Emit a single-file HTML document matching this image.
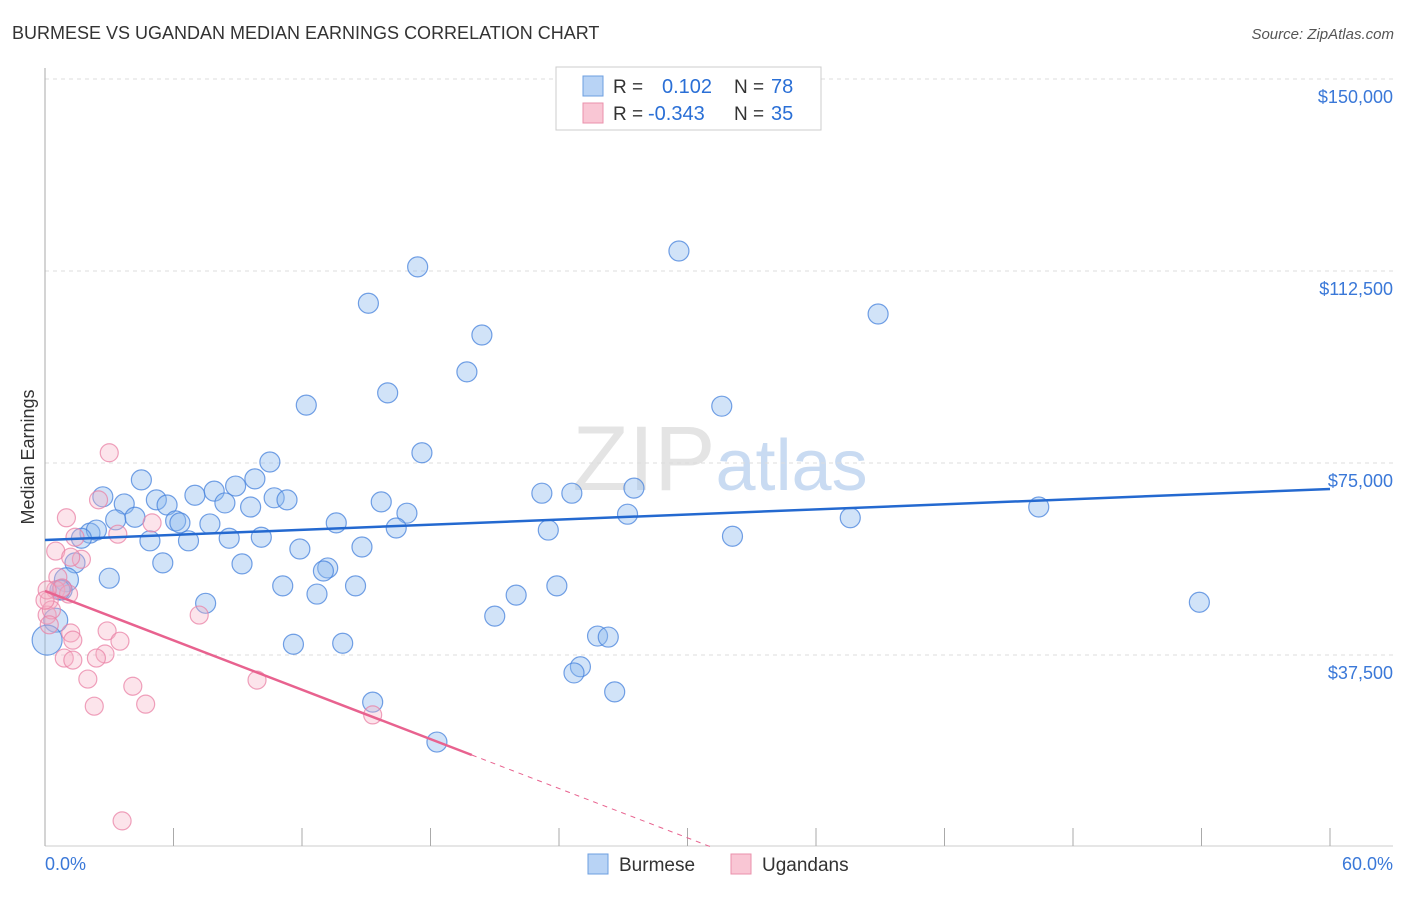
<!DOCTYPE html>
<html><head><meta charset="utf-8"><style>
body{margin:0;background:#fff;font-family:"Liberation Sans",sans-serif;}
svg text{font-family:"Liberation Sans",sans-serif;}
</style></head><body>
<svg id="chart" width="1406" height="892" xmlns="http://www.w3.org/2000/svg">
<text x="12" y="39" font-size="18" fill="#333">BURMESE VS UGANDAN MEDIAN EARNINGS CORRELATION CHART</text>
<text x="1394" y="39" font-size="15" fill="#555" text-anchor="end" font-style="italic">Source: ZipAtlas.com</text>
<text x="720" y="490" font-size="92" text-anchor="middle" fill="#e4e4e4" font-family="Liberation Serif"><tspan>ZIP</tspan><tspan fill="#c9dbf2" font-family="Liberation Sans" font-size="72">atlas</tspan></text>
<text transform="translate(34,457) rotate(-90)" font-size="18" fill="#333" text-anchor="middle">Median Earnings</text>
<g id="grid"></g><g id="axes"></g><g id="pts"></g><g id="lines"></g>
<g>
<rect x="556" y="67" width="265" height="63" fill="#fff" stroke="#ccc"/>
<rect x="583" y="76" width="20" height="20" fill="#b8d3f5" stroke="#6d9fe0"/>
<rect x="583" y="103" width="20" height="20" fill="#f9c6d4" stroke="#ea90ab"/>
<text x="613" y="93" font-size="19" fill="#333">R = </text><text x="662" y="93" font-size="20" fill="#2a6fd6">0.102</text>
<text x="734" y="93" font-size="19" fill="#333">N = </text><text x="771" y="93" font-size="20" fill="#2a6fd6">78</text>
<text x="613" y="120" font-size="19" fill="#333">R = </text><text x="648" y="120" font-size="20" fill="#2a6fd6">-0.343</text>
<text x="734" y="120" font-size="19" fill="#333">N = </text><text x="771" y="120" font-size="20" fill="#2a6fd6">35</text>
</g>
<g>
<rect x="588" y="854" width="20" height="20" fill="#b8d3f5" stroke="#6d9fe0"/>
<text x="619" y="871" font-size="19" fill="#333">Burmese</text>
<rect x="731" y="854" width="20" height="20" fill="#f9c6d4" stroke="#ea90ab"/>
<text x="762" y="871" font-size="19" fill="#333">Ugandans</text>
</g>
<text x="45" y="870" font-size="18" fill="#3a78d8">0.0%</text>
<text x="1393" y="870" font-size="18" fill="#3a78d8" text-anchor="end">60.0%</text>
</svg>
<script>
const yTicks=[37500,75000,112500,150000];
const yTickLabels=["$37,500","$75,000","$112,500","$150,000"];
const blueX=[29.6,17.4,15.1,38.9,20.4,19.7,16.0,12.2,31.6,17.6,10.5,4.5,9.8,8.9,27.5,7.0,7.9,23.2,24.6,2.7,5.2,10.7,11.3,5.7,15.7,3.7,9.6,8.4,46.4,16.9,27.2,4.2,3.3,6.1,6.3,37.6,13.6,7.7,16.4,23.5,2.1,2.4,1.7,4.9,6.7,8.6,10.1,32.1,14.8,11.9,5.5,9.2,1.4,13.2,13.0,3.0,1.0,11.1,14.5,23.9,0.8,12.7,22.0,7.5,53.9,21.0,0.5,11.6,13.9,25.8,26.3,0.1,25.0,24.7,26.6,15.3,18.3,0.7];
const blueY=[116.4,113.3,106.2,104.1,100.0,92.8,88.7,86.3,86.1,77.0,75.2,71.7,71.9,70.5,70.1,68.7,69.5,69.1,69.1,68.4,67.8,68.2,67.8,66.8,67.4,67.0,66.4,67.2,66.4,65.2,65.0,64.4,63.9,63.7,63.3,64.3,63.3,63.1,62.3,61.9,61.3,61.9,60.3,59.8,59.8,60.3,60.5,60.7,58.6,58.2,55.5,55.3,55.5,54.5,53.9,52.5,52.2,51.0,51.0,51.0,50.2,49.4,49.2,47.6,47.8,45.1,44.3,39.6,39.8,41.2,41.0,40.4,35.2,34.0,30.3,28.3,20.5,50.2];
const pinkX=[3.0,1.0,2.5,5.0,3.4,1.4,0.5,1.7,1.2,0.6,0.5,1.1,0.8,0.2,0.1,7.2,0.3,2.9,1.2,1.3,3.5,2.8,2.4,0.9,1.3,2.0,4.1,9.9,4.7,2.3,15.3,3.6,0.2,0.1,0.0];
const pinkY=[77.0,64.3,67.8,63.3,61.1,60.5,57.8,56.2,56.6,52.7,50.2,49.4,50.6,48.2,45.3,45.3,46.3,42.2,41.8,40.4,40.2,37.7,36.9,36.9,36.5,32.8,31.4,32.6,27.9,27.5,25.8,5.1,43.4,50.2,48.2];
const blueTrend=[59.96,69.92];
const pinkTrend=[50.0,17.97,19.93];
const NS='http://www.w3.org/2000/svg';
const X0=45,X1=1330,XMAX=60,YB=847,PPK=5.12;
function sx(v){return X0+(v/XMAX)*(X1-X0);}
function sy(k){return YB-k*PPK;}
function mk(t,a,p){const e=document.createElementNS(NS,t);for(const k in a)e.setAttribute(k,a[k]);p.appendChild(e);return e;}
const grid=document.getElementById('grid');
yTicks.forEach((t,i)=>{const y=sy(t/1000);
const l=mk('line',{x1:45,x2:1393,y1:y,y2:y,stroke:'#ddd','stroke-dasharray':'4,4'},grid);


const tx=mk('text',{x:1393,y:y+24,'font-size':18,fill:'#3a78d8','text-anchor':'end'},grid);tx.textContent=yTickLabels[i];

});
const axes=document.getElementById('axes');
const ya=mk('line',{x1:45,x2:45,y1:68,y2:846,stroke:'#aaa'},axes);


const xa=mk('line',{x1:45,x2:1393,y1:846,y2:846,stroke:'#ccc'},axes);


for(let i=0;i<=10;i++){const x=sx(i*6);const tk=mk('line',{x1:x,x2:x,y1:828,y2:846,stroke:'#aaa'},axes);

}
const pts=document.getElementById('pts');
blueX.forEach((v,i)=>{const r=(i===71)?15:(i===56||i===66)?12:10;
const c=mk('circle',{cx:sx(v),cy:sy(blueY[i]),r:r,fill:'rgba(140,184,238,0.4)',stroke:'rgba(70,130,220,0.75)','stroke-width':1.2},pts);

});
pinkX.forEach((v,i)=>{const c=mk('circle',{cx:sx(v),cy:sy(pinkY[i]),r:9,fill:'rgba(246,178,198,0.35)',stroke:'rgba(234,130,165,0.75)','stroke-width':1.2},pts);

});
const lines=document.getElementById('lines');
const bl=mk('line',{x1:sx(0),y1:sy(blueTrend[0]),x2:sx(60),y2:sy(blueTrend[1]),stroke:'#2469d0','stroke-width':2.5},lines);


const slope=(pinkTrend[1]-pinkTrend[0])/pinkTrend[2];
const pl=mk('line',{x1:sx(0),y1:sy(pinkTrend[0]),x2:sx(pinkTrend[2]),y2:sy(pinkTrend[1]),stroke:'#e8628f','stroke-width':2.5},lines);


const xz=-pinkTrend[0]/slope;
const pd=mk('line',{x1:sx(pinkTrend[2]),y1:sy(pinkTrend[1]),x2:sx(xz),y2:sy(0),stroke:'#e8628f','stroke-width':1,'stroke-dasharray':'5,5'},lines);


</script>
</body></html>
